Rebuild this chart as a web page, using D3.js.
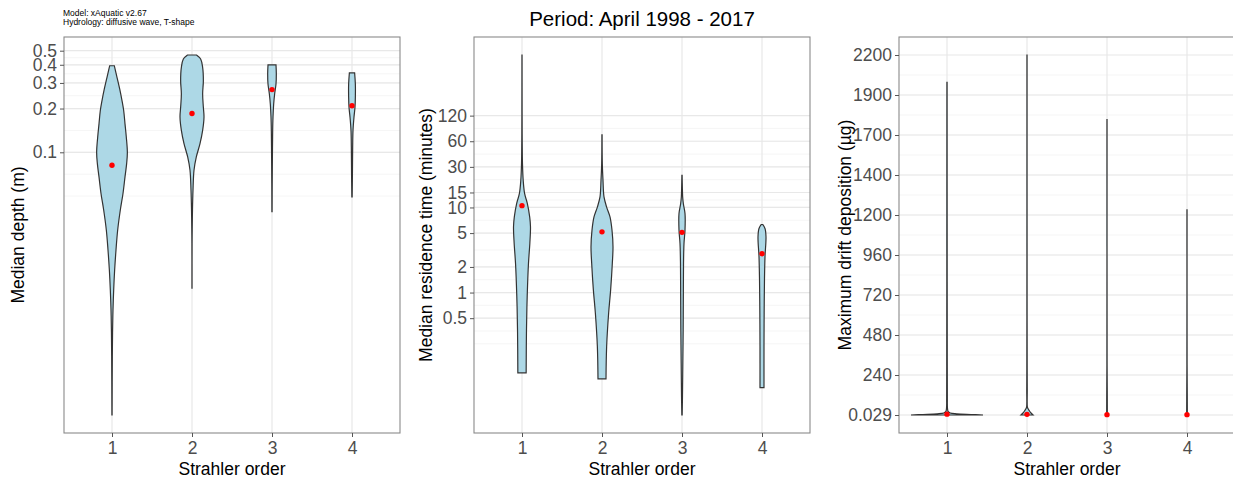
<!DOCTYPE html>
<html>
<head>
<meta charset="utf-8">
<script src="https://cdn.jsdelivr.net/npm/d3@7"></script>
<style>
  body { margin: 0; background: #fff; }
  text { font-family: "Liberation Sans", Arial, sans-serif; }
</style>
</head>
<body>
<svg id="chart" width="1233" height="481"></svg>
<script>
// Strahler orders (x categories)
const orders = ["1", "2", "3", "4"];

// panel 1: median depth (m), log axis
const depthTicks = [0.1, 0.2, 0.3, 0.4, 0.5];
const depthMeans = [0.0815, 0.185, 0.27, 0.209];
// violin outlines: [value, half width in category units]
const depth1 = [[0.00156, 0.001], [0.00396, 0.004], [0.00604, 0.0075], [0.00828, 0.0125], [0.0113, 0.021], [0.0155, 0.033], [0.0213, 0.05], [0.0292, 0.071], [0.0401, 0.104], [0.0521, 0.1375], [0.0677, 0.1625], [0.0836, 0.183], [0.1, 0.192], [0.127, 0.179], [0.157, 0.1625], [0.194, 0.146], [0.227, 0.125], [0.273, 0.096], [0.328, 0.0625], [0.394, 0.029]];
const depth2 = [[0.01165, 0.0004], [0.0237, 0.001], [0.0292, 0.0025], [0.0401, 0.006], [0.0549, 0.0125], [0.0753, 0.025], [0.0929, 0.054], [0.1147, 0.1], [0.1415, 0.133], [0.175, 0.15], [0.204, 0.142], [0.252, 0.133], [0.311, 0.142], [0.384, 0.133], [0.438, 0.108], [0.467, 0.056]];
const depth3 = [[0.039, 0.0012], [0.0611, 0.0025], [0.0929, 0.005], [0.1415, 0.0083], [0.175, 0.0125], [0.215, 0.021], [0.252, 0.033], [0.295, 0.05], [0.346, 0.054], [0.399, 0.05]];
const depth4 = [[0.0494, 0.002], [0.0715, 0.0054], [0.1087, 0.0083], [0.1415, 0.0125], [0.175, 0.025], [0.204, 0.0375], [0.239, 0.042], [0.295, 0.042], [0.3515, 0.033]];

// panel 2: median residence time (minutes), log axis
const residenceTicks = [0.5, 1, 2, 5, 10, 15, 30, 60, 120];
const residenceMeans = [10.5, 5.17, 5.1, 2.86];
const res1 = [[0.114, 0.052], [0.366, 0.056], [0.898, 0.065], [2.21, 0.081], [3.78, 0.098], [5.92, 0.106], [7.74, 0.096], [11.1, 0.067], [14.5, 0.033], [20.8, 0.015], [32.6, 0.006], [61.1, 0.0025], [125, 0.00125], [619, 0.0004]];
const res2 = [[0.097, 0.05], [0.233, 0.058], [0.574, 0.083], [1.076, 0.108], [2.21, 0.129], [3.45, 0.1375], [5.41, 0.125], [7.74, 0.1], [10.1, 0.058], [13.3, 0.025], [20.8, 0.0125], [32.6, 0.004], [71.3, 0.001]];
const res3 = [[0.0364, 0.002], [0.0608, 0.006], [0.149, 0.0104], [0.366, 0.0146], [0.898, 0.0167], [2.21, 0.019], [3.78, 0.025], [5.41, 0.0375], [8.49, 0.0375], [11.1, 0.0167], [13.3, 0.0083], [17.4, 0.0042], [23.8, 0.00125]];
const res4 = [[0.0762, 0.025], [0.233, 0.025], [0.574, 0.027], [1.41, 0.031], [2.64, 0.0375], [4.52, 0.05], [5.66, 0.0375], [6.31, 0.0083]];

// panel 3: maximum drift deposition (µg), linear axis
const driftTickLabels = ["0.029", "240", "480", "720", "960", "1200", "1400", "1700", "1900", "2200"];
const driftMeans = [5, 4, 2, 2];
const drift1 = [[0.029, 0.45], [3, 0.3], [7, 0.12], [12, 0.04], [20, 0.015], [40, 0.006], [100, 0.004], [300, 0.003], [800, 0.002], [2000, 0.001]];
const drift2 = [[0.029, 0.075], [12, 0.05], [25, 0.03], [40, 0.01], [50, 0.004], [150, 0.003], [280, 0.002], [600, 0.001], [2165, 0.0005]];
const drift3 = [[0.029, 0.004], [135, 0.003], [300, 0.001], [1776, 0.0005]];
const drift4 = [[0.029, 0.004], [130, 0.003], [300, 0.001], [1234, 0.0005]];

const svg = d3.select("#chart");
const plotTop = 37, plotBottom = 433;

function drawPanel(p) {
  const g = svg.append("g");
  const x = d3.scalePoint().domain(orders).range([p.left, p.right]).padding(0.6);
  const step = x.step();

  const vals = p.violins.flat().map(d => d[0]);
  const lo = d3.min(vals), hi = d3.max(vals);
  let y, tx, inv;
  if (p.log) {
    const a = Math.log10(lo), b = Math.log10(hi), pad = 0.05 * (b - a);
    y = d3.scaleLog().domain([10 ** (a - pad), 10 ** (b + pad)]).range([plotBottom, plotTop]);
    tx = Math.log10; inv = v => 10 ** v;
  } else {
    const pad = 0.05 * (hi - lo);
    y = d3.scaleLinear().domain([lo - pad, hi + pad]).range([plotBottom, plotTop]);
    tx = v => v; inv = v => v;
  }
  const breaks = p.ticks || d3.range(p.labels.length).map(i => lo + i * (hi - lo) / (p.labels.length - 1));
  const label = p.ticks ? (d => String(d)) : ((d, i) => p.labels[i]);

  // ggplot-like minor breaks: midpoints in transformed space, one extra step below
  const tb = breaks.map(tx);
  const bd = tb[1] - tb[0];
  const ext = [tb[0] - bd, ...tb];
  const minor = [];
  for (let i = 0; i < ext.length - 1; i++) minor.push(ext[i], (ext[i] + ext[i + 1]) / 2);
  const [d0, d1] = y.domain().map(tx);
  const minorVals = minor.filter(m => m > d0 && m < d1).map(inv);

  g.selectAll(".minor").data(minorVals).join("line")
    .attr("x1", p.left).attr("x2", p.right)
    .attr("y1", d => y(d)).attr("y2", d => y(d))
    .attr("stroke", "#f0f0f0").attr("stroke-width", 0.7);
  g.selectAll(".major").data(breaks).join("line")
    .attr("x1", p.left).attr("x2", p.right)
    .attr("y1", d => y(d)).attr("y2", d => y(d))
    .attr("stroke", "#e8e8e8").attr("stroke-width", 1.2);
  g.selectAll(".vgrid").data(orders).join("line")
    .attr("x1", d => x(d)).attr("x2", d => x(d))
    .attr("y1", plotTop).attr("y2", plotBottom)
    .attr("stroke", "#e8e8e8").attr("stroke-width", 1.2);

  // violins
  p.violins.forEach((v, i) => {
    const cx = x(orders[i]);
    const area = d3.area()
      .y(d => y(d[0]))
      .x0(d => cx - d[1] * step)
      .x1(d => cx + d[1] * step)
      .curve(d3.curveCatmullRom.alpha(0.5));
    g.append("path").attr("d", area(v))
      .attr("fill", "#add8e6").attr("stroke", "#333").attr("stroke-width", 1.2);
  });

  g.selectAll(".mean").data(p.means).join("circle")
    .attr("cx", (d, i) => x(orders[i])).attr("cy", d => y(d))
    .attr("r", 2.7).attr("fill", "red");

  g.append("rect").attr("x", p.left).attr("y", plotTop)
    .attr("width", p.right - p.left).attr("height", plotBottom - plotTop)
    .attr("fill", "none").attr("stroke", "#8a8a8a").attr("stroke-width", 1.1);

  const ya = g.append("g").attr("transform", `translate(${p.left},0)`)
    .call(d3.axisLeft(y).tickValues(breaks).tickFormat(label).tickSize(4).tickPadding(3));
  const xa = g.append("g").attr("transform", `translate(0,${plotBottom})`)
    .call(d3.axisBottom(x).tickSize(4).tickPadding(5));
  [ya, xa].forEach(a => {
    a.select(".domain").remove();
    a.selectAll("line").attr("stroke", "#555");
    a.selectAll("text").attr("fill", "#4d4d4d").style("font-size", "17.5px")
      .style("font-family", '"Liberation Sans", Arial, sans-serif');
  });

  g.append("text").attr("x", (p.left + p.right) / 2).attr("y", 475)
    .attr("text-anchor", "middle").style("font-size", "17.5px").text("Strahler order");
  g.append("text").attr("transform", `translate(${p.titleX},235) rotate(-90)`)
    .attr("text-anchor", "middle").style("font-size", "17.5px").text(p.ytitle);
}

drawPanel({left: 64, right: 400, log: true, ticks: depthTicks, means: depthMeans,
  violins: [depth1, depth2, depth3, depth4], ytitle: "Median depth (m)", titleX: 24});
drawPanel({left: 474, right: 810, log: true, ticks: residenceTicks, means: residenceMeans,
  violins: [res1, res2, res3, res4], ytitle: "Median residence time (minutes)", titleX: 432});
drawPanel({left: 899, right: 1235, log: false, labels: driftTickLabels, means: driftMeans,
  violins: [drift1, drift2, drift3, drift4], ytitle: "Maximum drift deposition (µg)", titleX: 851});

svg.append("text").attr("x", 642).attr("y", 26).attr("text-anchor", "middle")
  .style("font-size", "20.5px").text("Period: April 1998 - 2017");
svg.append("text").attr("x", 63).attr("y", 16).style("font-size", "8.5px").text("Model: xAquatic v2.67");
svg.append("text").attr("x", 63).attr("y", 25).style("font-size", "8.5px").text("Hydrology: diffusive wave, T-shape");
</script>
</body>
</html>
